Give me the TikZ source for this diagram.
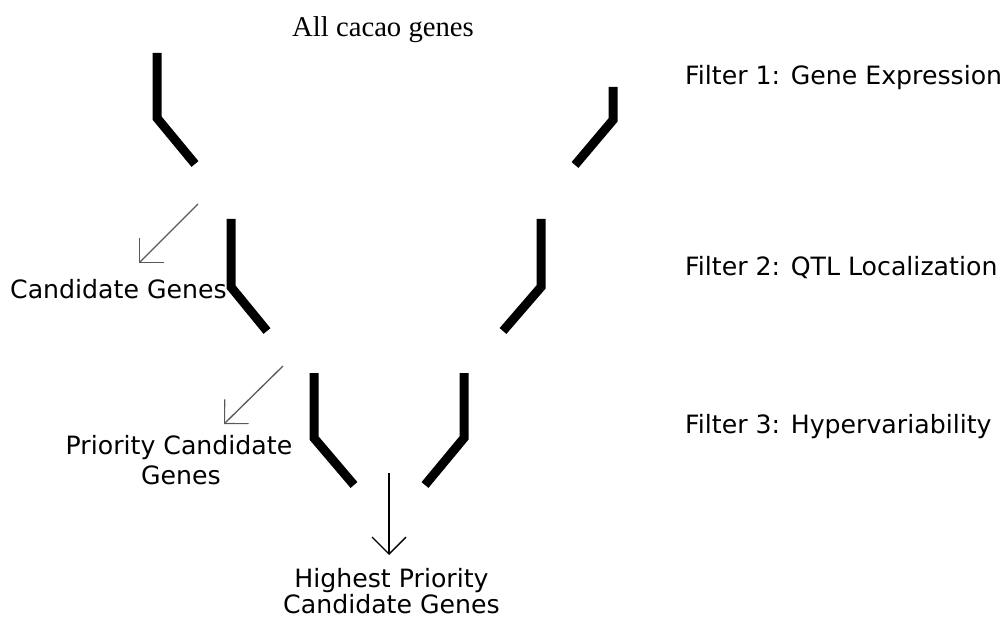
\documentclass[tikz,border=0pt]{standalone}
\usepackage{fontspec}
\setmainfont{Liberation Serif}
\newfontfamily\lblfont{DejaVu Sans}
\usetikzlibrary{arrows.meta}
\tikzset{
  funnel/.style={line width=9bp, line join=miter},
  lbl/.style={font=\lblfont\fontsize{25.3}{30}\selectfont, inner sep=0pt, anchor=base},
  ttl/.style={font=\fontsize{28.8}{34}\selectfont, inner sep=0pt, anchor=base},
  thinarrow/.style={line width=1.3bp, draw=black!65, -{Straight Barb[length=17bp,width=34bp,line width=1.1bp]}},
  downarrow/.style={line width=1.4bp, -{Straight Barb[length=17bp,width=34bp,line width=1.3bp]}}
}
\begin{document}
\begin{tikzpicture}[x=1bp, y=-1bp]
\useasboundingbox (0,0) rectangle (1006,619);
% title
\node[ttl] (all) at (383,37) {All cacao genes};
% filter labels
\node[lbl, anchor=base west] (f1) at (685,85) {Filter 1: Gene Expression};
\node[lbl, anchor=base west] (f2) at (685,276) {Filter 2: QTL Localization};
\node[lbl, anchor=base west] (f3) at (685,433) {Filter 3: Hypervariability};
% result labels
\node[lbl, anchor=base west] (cg) at (10,299) {Candidate Genes};
\node[lbl] (pcg1) at (179,454) {Priority Candidate};
\node[lbl] (pcg2) at (181,484) {Genes};
\node[lbl] (hpcg1) at (391.5,587) {Highest Priority};
\node[lbl] (hpcg2) at (391.5,613) {Candidate Genes};
% funnels
\draw[funnel] (157,53) -- (157,118) -- (195,164);
\draw[funnel] (613,87) -- (613,120) -- (575,165);
\draw[funnel] (231,219) -- (231,287) -- (267,331);
\draw[funnel] (541,219) -- (541,287) -- (503,331);
\draw[funnel] (314,373) -- (314,438) -- (354,485);
\draw[funnel] (464,373) -- (464,438) -- (425,485);
% arrows
\coordinate (a1s) at (198,204);
\coordinate (a1e) at (139,263);
\coordinate (a2s) at (283,366);
\coordinate (a2e) at (224,424);
\coordinate (a3s) at (389,473);
\coordinate (a3e) at (389,555);
\draw[thinarrow] (a1s) -- (a1e);
\draw[thinarrow] (a2s) -- (a2e);
\draw[downarrow] (a3s) -- (a3e);
\end{tikzpicture}
\end{document}
